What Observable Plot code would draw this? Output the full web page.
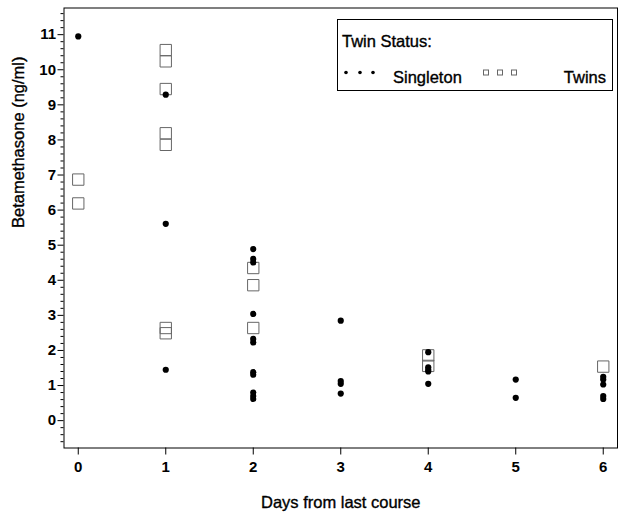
<!DOCTYPE html>
<html>
<head>
<meta charset="utf-8">
<script src="https://cdn.jsdelivr.net/npm/d3@7"></script>
<script src="https://cdn.jsdelivr.net/npm/@observablehq/plot@0.6"></script>
<style>
  body { margin: 0; background: #fff; }
  #chart { width: 624px; height: 522px; }
</style>
</head>
<body>
<div id="chart"></div>
<script>
// ---- data ----
const singletonDays   = [0, 1, 1, 1, 2, 2, 2, 2, 2, 2, 2, 2, 2, 2, 2, 3, 3, 3, 3, 4, 4, 4, 4, 4, 5, 5, 6, 6, 6, 6, 6];
const singletonValues = [10.95, 9.29, 5.61, 1.45, 4.89, 4.61, 4.51, 3.04, 2.33, 2.23, 1.38, 1.31, 0.80, 0.70, 0.62, 2.85, 1.13, 1.05, 0.77, 1.95, 1.52, 1.45, 1.40, 1.05, 1.17, 0.65, 1.25, 1.17, 1.03, 0.70, 0.62];
const twinsDays   = [0, 0, 1, 1, 1, 1, 1, 1, 1, 2, 2, 2, 4, 4, 6];
const twinsValues = [6.87, 6.19, 10.56, 10.24, 9.45, 8.19, 7.86, 2.64, 2.49, 4.35, 3.86, 2.64, 1.86, 1.56, 1.54];
const xTicks = [0, 1, 2, 3, 4, 5, 6];
const yTicks = [0, 1, 2, 3, 4, 5, 6, 7, 8, 9, 10, 11];
const xLabel = "Days from last course";
const yLabel = "Betamethasone (ng/ml)";
const legendTitle = "Twin Status:";
const seriesNames = ["Singleton", "Twins"];

// ---- tables built from the arrays ----
const singleton = singletonDays.map((d, i) => ({day: d, value: singletonValues[i]}));
const twins = twinsDays.map((d, i) => ({day: d, value: twinsValues[i]}));
const minorTicks = d3.range(-3, 59).filter(i => i % 5 !== 0).map(i => i / 5);

const FONT = "'Liberation Sans', Arial, Helvetica, sans-serif";

const plot = Plot.plot({
  width: 624,
  height: 522,
  marginLeft: 63.5,
  marginRight: 7,
  marginTop: 7.5,
  marginBottom: 74.5,
  x: {domain: [-0.163, 6.163]},
  y: {domain: [-0.78, 11.76]},
  style: {fontFamily: FONT, color: "black", background: "white", overflow: "visible"},
  marks: [
    Plot.axisY({ticks: minorTicks, tickSize: 3, tickFormat: () => "", label: null}),
    Plot.axisY({ticks: yTicks, tickSize: 6, tickPadding: 2, tickFormat: d => String(d), fontSize: 15, label: null}),
    Plot.axisX({ticks: xTicks, tickSize: 7, tickPadding: 6, tickFormat: d => String(d), fontSize: 15, label: null}),
    Plot.text([xLabel], {frameAnchor: "bottom", dy: 60, text: d => d, fontSize: 16.5, fill: "black", stroke: "black", strokeWidth: 0.35}),
    Plot.text([yLabel], {frameAnchor: "left", dx: -45, rotate: -90, text: d => d, fontSize: 16.5, fill: "black", stroke: "black", strokeWidth: 0.35}),
    Plot.dot(twins, {x: "day", y: "value", symbol: "square", r: 6.4, stroke: "#666", strokeWidth: 1, fill: "none"}),
    Plot.dot(singleton, {x: "day", y: "value", r: 3.1, fill: "black", stroke: "none"}),
    Plot.frame({stroke: "black", strokeWidth: 1})
  ]
});

document.getElementById("chart").appendChild(plot);

const svg = d3.select(plot);
// make tick labels bold
svg.selectAll("g[aria-label$='tick label']").attr("font-weight", "bold");

// ---- legend box drawn into the same SVG ----
const lg = svg.append("g").attr("font-family", FONT).attr("text-anchor", "start")
  .attr("stroke-width", 0.35);
lg.append("rect").attr("x", 337.5).attr("y", 19.5).attr("width", 275).attr("height", 71)
  .attr("fill", "white").attr("stroke", "black").attr("stroke-width", 1);
lg.append("text").attr("x", 342).attr("y", 47).attr("font-size", 16.5).attr("fill", "black").attr("stroke", "black").text(legendTitle);
[346, 360, 373].forEach(cx => lg.append("circle").attr("cx", cx).attr("cy", 72.5).attr("r", 1.8).attr("fill", "black"));
lg.append("text").attr("x", 393).attr("y", 83).attr("font-size", 16.5).attr("fill", "black").attr("stroke", "black").text(seriesNames[0]);
[486, 500, 514].forEach(cx => lg.append("rect").attr("x", cx - 2.5).attr("y", 70).attr("width", 5).attr("height", 5)
  .attr("fill", "none").attr("stroke", "#666").attr("stroke-width", 1));
lg.append("text").attr("x", 606).attr("y", 83).attr("text-anchor", "end").attr("font-size", 16.5).attr("fill", "black").attr("stroke", "black").text(seriesNames[1]);
</script>
</body>
</html>
